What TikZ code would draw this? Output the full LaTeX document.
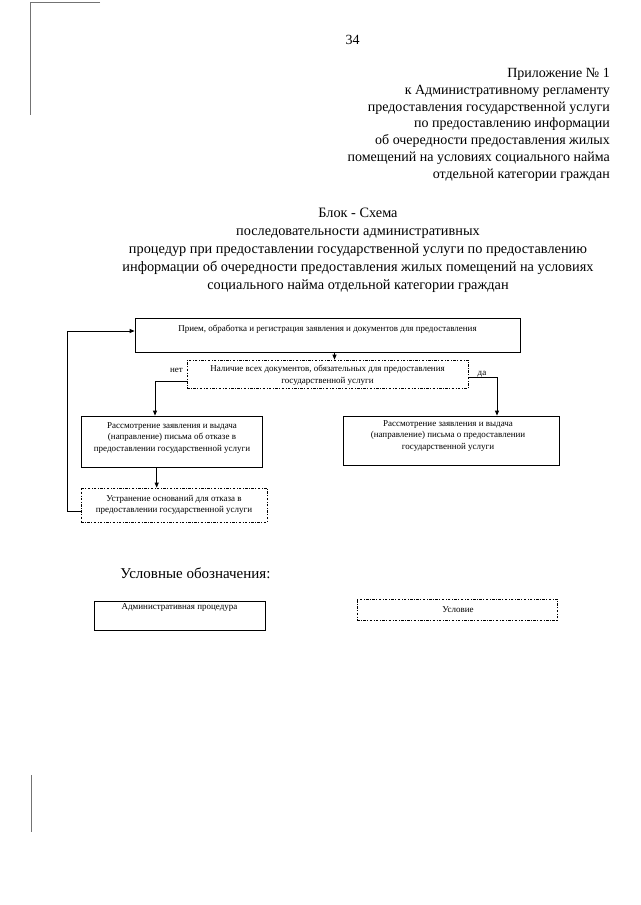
\documentclass[tikz,border=0pt]{standalone}
\usepackage{fontspec}
\setmainfont{Liberation Serif}
\usetikzlibrary{arrows.meta,calc}
\begin{document}
\begin{tikzpicture}[x=1pt,y=-1pt,
  proc/.style={draw, line width=0.8pt, inner sep=0pt},
  cond/.style={draw, line width=0.7pt, dash pattern=on 2.5pt off 1.5pt on 0.8pt off 1.5pt, inner sep=0pt},
  boxtxt/.style={font=\fontsize{9}{11.5}\selectfont, align=center, inner sep=0pt},
  hdr/.style={font=\fontsize{14}{16}\selectfont, inner sep=0pt},
  ttl/.style={font=\fontsize{14.3}{17}\selectfont, inner sep=0pt},
  conn/.style={line width=0.8pt},
  arr/.style={conn, -{Triangle[length=5pt,width=4pt]}},
  scanedge/.style={draw=black!55, line width=1pt},
]
\useasboundingbox (0,0) rectangle (640,905);

% scanned page edge
\draw[scanedge] (100,2.5) -- (30.5,2.5) -- (30.5,115);
\draw[scanedge] (31,775) -- (31,832);

% page number
\node[hdr, anchor=base] (pg) at (352.5,44) {34};

% header
\node[hdr, anchor=base east] (h1) at (610,77.5) {Приложение № 1};
\node[hdr, anchor=base east] (h2) at (610,94.3) {к Административному регламенту};
\node[hdr, anchor=base east] (h3) at (610,111.1) {предоставления государственной услуги};
\node[hdr, anchor=base east] (h4) at (610,127.9) {по предоставлению информации};
\node[hdr, anchor=base east] (h5) at (610,144.7) {об очередности предоставления жилых};
\node[hdr, anchor=base east] (h6) at (610,161.5) {помещений на условиях социального найма};
\node[hdr, anchor=base east] (h7) at (610,178.3) {отдельной категории граждан};

% title
\node[ttl, anchor=base] (t1) at (358,217.5) {Блок - Схема};
\node[ttl, anchor=base] (t2) at (358,235.5) {последовательности административных};
\node[ttl, anchor=base] (t3) at (358,253.5) {процедур при предоставлении государственной услуги по предоставлению};
\node[ttl, anchor=base] (t4) at (358,271.5) {информации об очередности предоставления жилых помещений на условиях};
\node[ttl, anchor=base] (t5) at (358,289.5) {социального найма отдельной категории граждан};

% boxes
\node[proc, minimum width=385pt, minimum height=34pt] (b1) at (327.5,335.5) {};
\node[boxtxt, anchor=base] (b1t) at (327.5,331) {Прием, обработка и регистрация заявления и документов для предоставления};

\node[cond, minimum width=281pt, minimum height=28pt] (c1) at (327.5,374) {};
\node[boxtxt] (c1t) at (327.5,375) {Наличие всех документов, обязательных для предоставления\\государственной услуги};

\node[proc, minimum width=181pt, minimum height=51pt] (b2) at (172,441.5) {};
\node[boxtxt] (b2t) at (172,438) {Рассмотрение заявления и выдача\\(направление) письма об отказе в\\предоставлении государственной услуги};

\node[proc, minimum width=216pt, minimum height=49pt] (b3) at (451.6,440.5) {};
\node[boxtxt] (b3t) at (448,436) {Рассмотрение заявления и выдача\\(направление) письма о предоставлении\\государственной услуги};

\node[cond, minimum width=186pt, minimum height=34pt] (c2) at (174,505) {};
\node[boxtxt] (c2t) at (174,505) {Устранение оснований для отказа в\\предоставлении государственной услуги};

% labels
\node[boxtxt, anchor=base] (no) at (176.5,372.5) {нет};
\node[boxtxt, anchor=base] (yes) at (482,375.5) {да};

% connectors
\draw[arr] ($(b1.south)+(7,0)$) -- ($(c1.north)+(7,0)$);
\draw[arr] ($(c1.west)+(0,7)$) -| ($(b2.north)+(-17,0)$);
\draw[arr] ($(c1.east)+(0,3)$) -| ($(b3.north)+(45.4,0)$);
\draw[arr] ($(b2.south)+(-15.3,0)$) -- ($(c2.north)+(-17.3,0)$);
\coordinate (fb) at (67,331);
\draw[arr] ($(c2.west)+(0,6)$) -| (fb) -- (b1.west |- fb);

% legend
\node[font=\fontsize{15}{18}\selectfont, inner sep=0pt, anchor=base] (lg) at (195.5,578) {Условные обозначения:};
\node[proc, minimum width=171pt, minimum height=29pt] (l1) at (179.5,615.5) {};
\node[boxtxt, anchor=base] (l1t) at (179.5,609.5) {Административная процедура};
\node[cond, minimum width=200pt, minimum height=21pt] (l2) at (457,609.5) {};
\node[boxtxt, anchor=base] (l2t) at (458,612.5) {Условие};
\end{tikzpicture}
\end{document}
